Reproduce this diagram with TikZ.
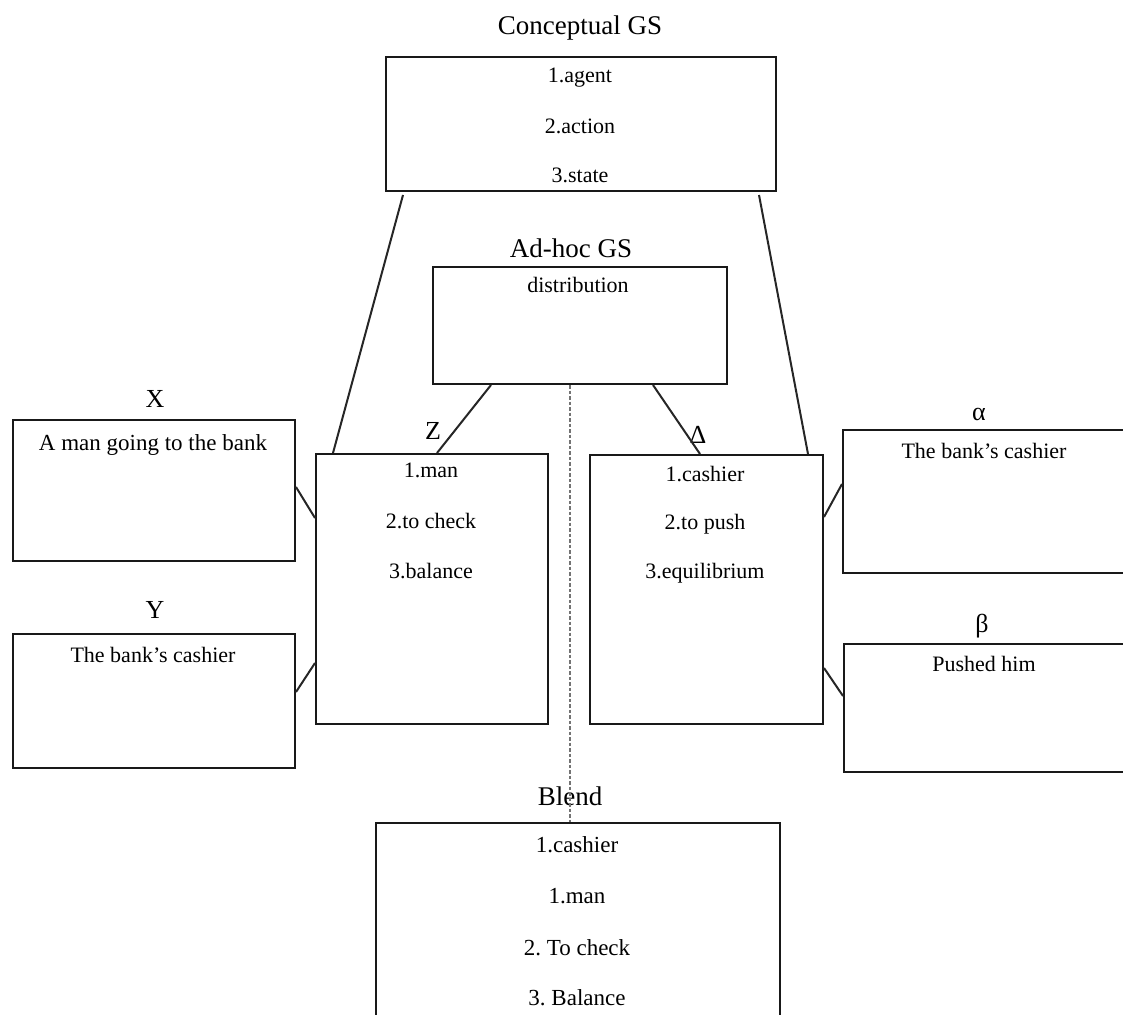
\documentclass[tikz,border=0pt]{standalone}
\usepackage{fontspec}
\setmainfont{Liberation Serif}
\frenchspacing
\usetikzlibrary{calc}

\tikzset{
  frame/.style={draw=black!90, line width=2pt, rectangle, anchor=north west, inner sep=0pt},
  link/.style={draw=black!85, line width=2pt},
  dashlink/.style={draw=black!55, line width=2.2pt, dash pattern=on 3.5pt off 2pt},
  heading/.style={anchor=base, inner sep=0pt, font=\fontsize{27}{32}\selectfont},
  tag/.style={anchor=base, inner sep=0pt, font=\fontsize{26}{30}\selectfont},
  item/.style={anchor=base, inner sep=0pt, font=\fontsize{22}{26}\selectfont},
  bigitem/.style={anchor=base, inner sep=0pt, font=\fontsize{23}{27}\selectfont},
}

\newcommand{\boxat}[5]{% name, x1, y1, x2, y2
  \node[frame, minimum width={#4-#2}, minimum height={#5-#3}] (#1) at (#2,#3) {};}

\begin{document}
\begin{tikzpicture}[x=1pt, y=-1pt]
  \clip (0,0) rectangle (1123,1014);
  \useasboundingbox (0,0) rectangle (1123,1014);

  % frames
  \boxat{cg}{385}{56}{775}{190}
  \boxat{ah}{432}{266}{726}{383}
  \boxat{bx}{12}{419}{294}{560}
  \boxat{by}{12}{633}{294}{767}
  \boxat{bz}{315}{453}{547}{723}
  \boxat{bd}{589}{454}{822}{723}
  \boxat{ba}{842}{429}{1128}{572}
  \boxat{bb}{843}{643}{1128}{771}
  \boxat{bl}{375}{822}{779}{1040}

  % generic space
  \node[heading] (cgT) at (580,35) {Conceptual GS};
  \node[item] (cg1) at (580,83) {1.agent};
  \node[item] (cg2) at (580,133) {2.action};
  \node[item] (cg3) at (580,182) {3.state};

  % ad-hoc generic space
  \node[heading] (ahT) at (571,257) {Ad-hoc GS};
  \node[item] (ah1) at (578,292) {distribution};

  % inputs X and Y
  \node[tag] (xT) at (155,407) {X};
  \node[bigitem] (x1) at (153,450) {A man going to the bank};
  \node[tag] (yT) at (155,618) {Y};
  \node[item] (y1) at (153,662) {The bank’s cashier};

  % space Z
  \node[tag] (zT) at (433,439) {Z};
  \node[item] (z1) at (431,477) {1.man};
  \node[item] (z2) at (431,528) {2.to check};
  \node[item] (z3) at (431,578) {3.balance};

  % space Delta
  \node[tag] (dT) at (698,443) {Δ};
  \node[item] (d1) at (705,481) {1.cashier};
  \node[item] (d2) at (705,529) {2.to push};
  \node[item] (d3) at (705,578) {3.equilibrium};

  % inputs alpha and beta
  \node[tag] (aT) at (979,420) {α};
  \node[item] (a1) at (984,458) {The bank’s cashier};
  \node[tag] (bT) at (982,632) {β};
  \node[item] (b1) at (984,671) {Pushed him};

  % blended space
  \node[heading] (blT) at (570,805) {Blend};
  \node[bigitem] (bl1) at (577,852) {1.cashier};
  \node[bigitem] (bl2) at (577,903) {1.man};
  \node[bigitem] (bl3) at (577,955) {2. To check};
  \node[bigitem] (bl4) at (577,1005) {3. Balance};

  % connectors
  \draw[link] ([xshift=18pt,yshift=-3pt]cg.south west) -- ([xshift=18pt]bz.north west);
  \draw[link] ([xshift=-18pt,yshift=-3pt]cg.south east) -- ([xshift=-16pt]bd.north east);
  \draw[link] ([xshift=59pt]ah.south west) -- ([xshift=122pt]bz.north west);
  \draw[link] ([xshift=-75pt]ah.south east) -- ([xshift=111pt]bd.north west);
  \draw[link] ([yshift=-68pt]bx.north east) -- ([yshift=-65pt]bz.north west);
  \draw[link] ([yshift=-59pt]by.north east) -- ([yshift=-210pt]bz.north west);
  \draw[link] ([yshift=-63pt]bd.north east) -- ([yshift=-55pt]ba.north west);
  \draw[link] ([yshift=-214pt]bd.north east) -- ([yshift=-53pt]bb.north west);
  \draw[dashlink] ([xshift=-10pt]ah.south) -- ([xshift=-8pt]bl.north);
\end{tikzpicture}
\end{document}
